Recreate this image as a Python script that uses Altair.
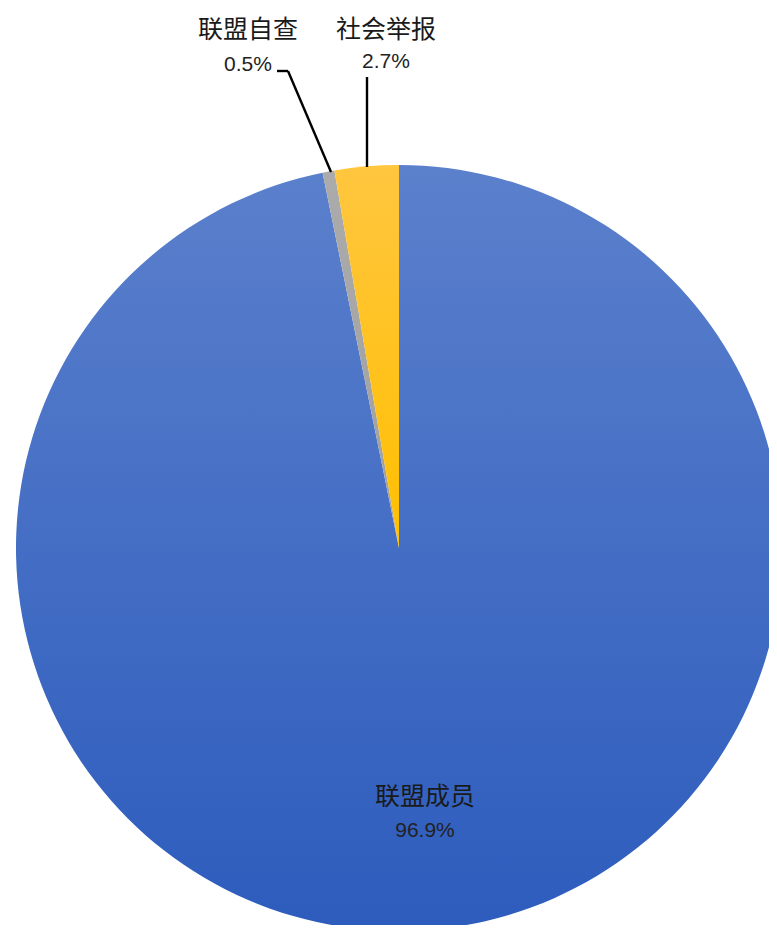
import altair as alt
import pandas as pd

categories = ["联盟成员", "联盟自查", "社会举报"]
values = [96.9, 0.5, 2.7]
pct_labels = ["96.9%", "0.5%", "2.7%"]

df = pd.DataFrame({"cat": categories, "v": values, "pct": pct_labels,
                   "idx": list(range(len(categories)))})

W, H = 761, 917
CX, CY, R = 391, 540, 383

grad = {
    "联盟成员": {"gradient": "linear", "x1": 0, "y1": 0, "x2": 0, "y2": 1,
             "stops": [{"offset": 0, "color": "#5B80CC"}, {"offset": 1, "color": "#2D5CBD"}]},
    "联盟自查": {"gradient": "linear", "x1": 0, "y1": 0, "x2": 0, "y2": 1,
             "stops": [{"offset": 0, "color": "#ABABAB"}, {"offset": 1, "color": "#A0A0A0"}]},
    "社会举报": {"gradient": "linear", "x1": 0, "y1": 0, "x2": 0, "y2": 1,
             "stops": [{"offset": 0, "color": "#FFC63F"}, {"offset": 1, "color": "#FFBF00"}]},
}

base = alt.Chart(df).transform_joinaggregate(
    total="sum(v)"
).transform_window(
    cum="sum(v)", sort=[alt.SortField("idx", order="ascending")],
    frame=[None, 0]
).transform_calculate(
    t0="(datum.cum - datum.v) / datum.total * 2 * PI",
    t1="datum.cum / datum.total * 2 * PI",
)

layers = []
for c in categories:
    layers.append(
        base.transform_filter(alt.datum.cat == c).mark_arc(
            radius=R, color=grad[c], stroke=None
        ).encode(
            theta=alt.Theta("t0:Q", scale=None),
            theta2="t1:Q",
            x=alt.value(CX), y=alt.value(CY),
        )
    )

# label positions (layout annotations)
lab_pos = {"联盟成员": ((417, 789), (417, 823)),
           "联盟自查": ((240, 22), (240, 57)),
           "社会举报": ((378, 22), (378, 54))}

for c in categories:
    (nx, ny), (px, py) = lab_pos[c]
    layers.append(
        base.transform_filter(alt.datum.cat == c).mark_text(
            font="Noto Sans CJK SC", fontSize=25, color="#1A1A1A", baseline="middle", align="center"
        ).encode(text="cat:N", x=alt.value(nx), y=alt.value(ny))
    )
    layers.append(
        base.transform_filter(alt.datum.cat == c).mark_text(
            font="Liberation Sans", fontSize=21, color="#222222", baseline="middle", align="center"
        ).encode(text="pct:N", x=alt.value(px), y=alt.value(py))
    )

leaders = [((269, 63), (280, 63)), ((280, 63), (323, 164)), ((359, 69), (359, 159))]
for (x1, y1), (x2, y2) in leaders:
    layers.append(
        alt.Chart(df.head(1)).mark_rule(color="#000000", strokeWidth=2.4).encode(
            x=alt.value(x1), y=alt.value(y1), x2=alt.value(x2), y2=alt.value(y2)
        )
    )

chart = alt.layer(*layers).properties(
    width=W, height=H, padding=0, autosize=alt.AutoSizeParams(type="none")
).configure_view(stroke=None)

chart.save("out.html", embed_options={"renderer": "svg", "actions": False})
